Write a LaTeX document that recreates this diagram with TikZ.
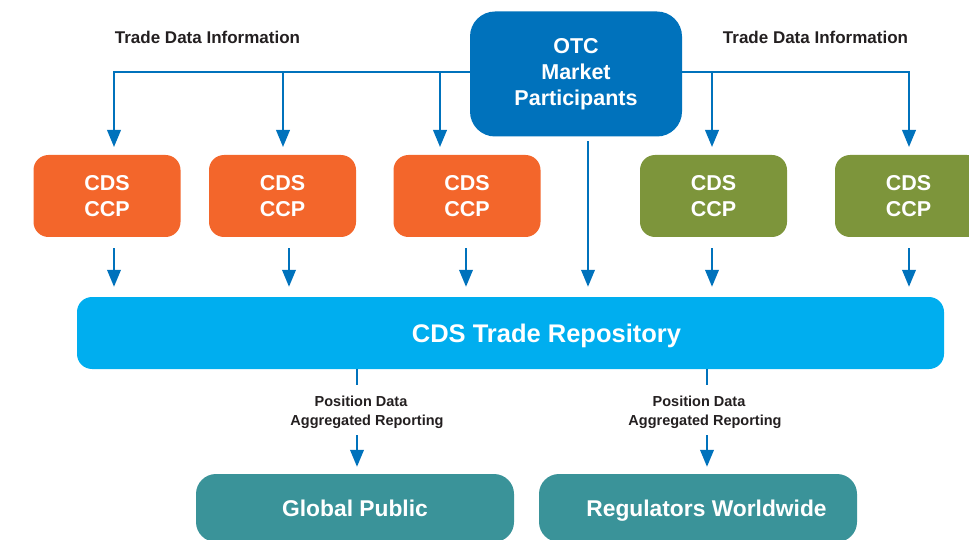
\documentclass[tikz,border=0pt]{standalone}
\usepackage{fontspec}
\setmainfont{Liberation Sans}
\usetikzlibrary{arrows.meta}
\definecolor{otcblue}{RGB}{0,114,188}
\definecolor{lineblue}{RGB}{0,114,188}
\definecolor{repoblue}{RGB}{0,174,239}
\definecolor{ccporange}{RGB}{243,102,43}
\definecolor{ccpgreen}{RGB}{125,149,59}
\definecolor{destteal}{RGB}{58,147,153}
\definecolor{txtdark}{RGB}{35,31,32}
\begin{document}
\begin{tikzpicture}[x=1pt,y=-1pt,
  ccp/.style={rectangle, rounded corners=15pt, minimum width=147pt, minimum height=82pt,
    text=white, font=\fontsize{21.5}{26}\selectfont\bfseries, align=center, inner sep=0pt},
  orangebox/.style={ccp, fill=ccporange},
  greenbox/.style={ccp, fill=ccpgreen},
  otcbox/.style={rectangle, rounded corners=25pt, minimum width=212pt, minimum height=125pt,
    fill=otcblue, text=white, font=\fontsize{21.5}{26}\selectfont\bfseries, align=center, inner sep=0pt},
  repobox/.style={rectangle, rounded corners=15pt, minimum width=867pt, minimum height=72pt,
    fill=repoblue, text=white, font=\fontsize{25.5}{30}\selectfont\bfseries, inner sep=0pt, text depth=0pt},
  destbox/.style={rectangle, rounded corners=20pt, minimum width=318pt, minimum height=68pt,
    fill=destteal, text=white, font=\fontsize{22.8}{27}\selectfont\bfseries, inner sep=0pt, text depth=0pt},
  conn/.style={draw=lineblue, line width=2.2pt},
  arr/.style={conn, -{Triangle[length=17pt,width=13.5pt]}},
  note/.style={text=txtdark, font=\fontsize{17}{20}\selectfont\bfseries, inner sep=0pt},
  smallnote/.style={text=txtdark, font=\fontsize{14.5}{19}\selectfont\bfseries, align=center, inner sep=0pt}
]
\useasboundingbox (0,0) rectangle (969,540);
\clip (0,0) rectangle (969,540);

% boxes
\node[otcbox] (otc) at (576,74) {OTC\\Market\\Participants};
\node[orangebox] (c1) at (107,196) {CDS\\CCP};
\node[orangebox] (c2) at (282.5,196) {CDS\\CCP};
\node[orangebox] (c3) at (467,196) {CDS\\CCP};
\node[greenbox] (c4) at (713.5,196) {CDS\\CCP};
\node[greenbox] (c5) at (908.5,196) {CDS\\CCP};
\node[repobox] (repo) at (510.5,333) {\kern72pt CDS Trade Repository};
\node[destbox] (pub) at (355,508) {Global Public};
\node[destbox] (reg) at (698,508) {\kern17pt Regulators Worldwide};

% labels
\node[note] (tdl) at (207.5,37) {Trade Data Information};
\node[note] (tdr) at (815.5,37) {Trade Data Information};
\node[smallnote] (p1) at (367,412) {Position Data\kern12pt\\Aggregated Reporting};
\node[smallnote] (p2) at (705,412) {Position Data\kern12pt\\Aggregated Reporting};

% trunk arrows to CCPs
\coordinate (h1) at (114,147);
\coordinate (h2) at (283,147);
\coordinate (h3) at (440,147);
\coordinate (h4) at (712,147);
\coordinate (h5) at (909,147);
\draw[arr] ([yshift=2pt]otc.west) -| (h1);
\draw[arr] ([yshift=2pt]otc.west) -| (h2);
\draw[arr] ([yshift=2pt]otc.west) -| (h3);
\draw[arr] ([yshift=2pt]otc.east) -| (h4);
\draw[arr] ([yshift=2pt]otc.east) -| (h5);

% CCPs to repository
\draw[arr, shorten <=11pt, shorten >=10pt] ([xshift=7pt]c1.south) -- ([xshift=7pt]c1.south |- repo.north);
\draw[arr, shorten <=11pt, shorten >=10pt] ([xshift=6.5pt]c2.south) -- ([xshift=6.5pt]c2.south |- repo.north);
\draw[arr, shorten <=11pt, shorten >=10pt] ([xshift=-1pt]c3.south) -- ([xshift=-1pt]c3.south |- repo.north);
\draw[arr, shorten <=11pt, shorten >=10pt] ([xshift=-1.5pt]c4.south) -- ([xshift=-1.5pt]c4.south |- repo.north);
\draw[arr, shorten <=11pt, shorten >=10pt] ([xshift=0.5pt]c5.south) -- ([xshift=0.5pt]c5.south |- repo.north);
\draw[arr, shorten <=4.5pt, shorten >=10pt] ([xshift=12pt]otc.south) -- ([xshift=12pt]otc.south |- repo.north);

% repository to destinations
\coordinate (s1) at (357,435);
\coordinate (s2) at (707,435);
\draw[conn] (repo.south -| s1) -- ++(0,16);
\draw[conn] (repo.south -| s2) -- ++(0,16);
\draw[arr, shorten >=7pt] (s1) -- (pub.north -| s1);
\draw[arr, shorten >=7pt] (s2) -- (reg.north -| s2);
\end{tikzpicture}
\end{document}
